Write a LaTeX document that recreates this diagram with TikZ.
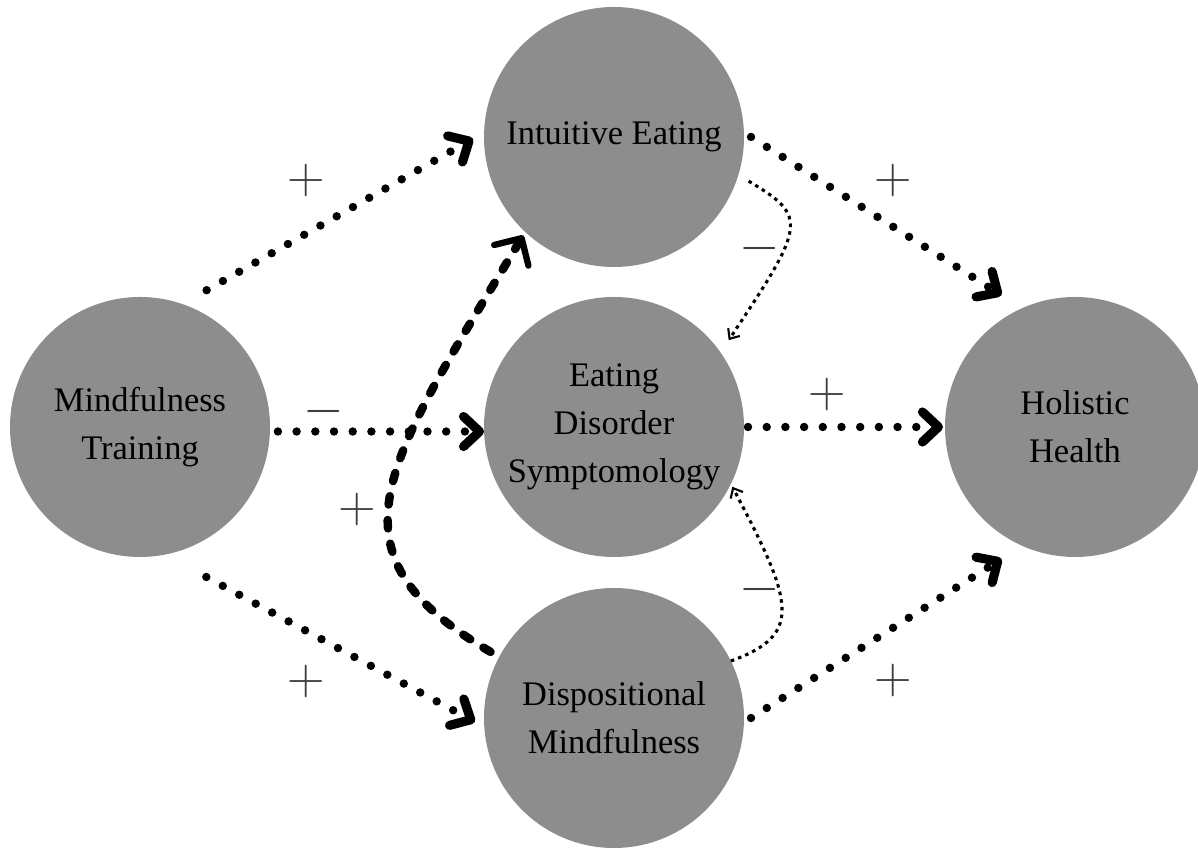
\documentclass[tikz,border=0pt]{standalone}
\usepackage{fix-cm}
\usepackage{fontspec}
\setmainfont{Liberation Serif}
\usetikzlibrary{arrows.meta}

\definecolor{factorgray}{RGB}{141,141,141}
\definecolor{signgray}{RGB}{60,60,60}

\begin{document}
\begin{tikzpicture}[
    factor/.style={circle, fill=factorgray, minimum size=6.5cm, inner sep=0pt, outer sep=0pt,
        align=center, font=\fontsize{24.5}{34}\selectfont},
    dotarrow/.style={line width=6pt, line cap=round, dash pattern=on 0pt off 13.3pt,
        -{Straight Barb[length=0.4cm, width=0.75cm, line width=6.5pt, round]}},
    dasharrow/.style={line width=6pt, line cap=round, dash pattern=on 6pt off 11pt,
        -{Straight Barb[length=0.5cm, width=1.0cm, line width=4.5pt, round]}},
    thinarrow/.style={line width=2.2pt, dash pattern=on 2.5pt off 3pt,
        -{Straight Barb[length=0.2cm, width=0.35cm, line width=1.5pt]}},
    sign/.style={inner sep=0pt, text=signgray, font=\fontsize{37}{37}\selectfont}
]
    \useasboundingbox (0,0) rectangle (29.95,21.2);

    % Circles
    \node[factor] (mt) at (3.5,10.525) {Mindfulness\\Training};
    \node[factor] (ie) at (15.35,17.775) {Intuitive Eating};
    \node[factor] (ed) at (15.35,10.525) {Eating\\Disorder\\Symptomology};
    \node[factor] (dm) at (15.35,3.25) {Dispositional\\Mindfulness};
    \node[factor] (hh) at (26.875,10.525) {Holistic\\Health};

    % Mindfulness Training outgoing paths
    \draw[dotarrow, shorten <=0.7cm, shorten >=0.32cm] (mt.71) -- (ie.178);
    \draw[dotarrow, shorten <=0.2cm] (mt.-2) -- (ed.182);
    \draw[dotarrow, shorten <=1.18cm, shorten >=0.27cm] (mt.-79) -- (dm.184.5);

    % Paths into Holistic Health
    \draw[dotarrow, shorten <=0.21cm, shorten >=0.61cm] (ie.2) -- (hh.114);
    \draw[dotarrow, shorten <=0.1cm, shorten >=0.05cm] (ed.east) -- (hh.west);
    \draw[dotarrow, shorten <=0.21cm, shorten >=0.61cm] (dm.-2) -- (hh.246);

    % Dispositional Mindfulness to Intuitive Eating
    \draw[dasharrow, shorten <=0.25cm, shorten >=0.1cm]
        (dm.152) .. controls +(-4.475,2.625) and +(-3.545,-5.87) .. (ie.227);

    % Paths into Eating Disorder Symptomology
    \draw[thinarrow, shorten <=0.3cm, shorten >=0.37cm]
        (ie.-17) .. controls +(1.745,-1.04) and +(2.14,3.21) .. (ed.35);
    \draw[thinarrow, shorten >=0.08cm]
        (dm.26) .. controls +(1.82,0.66) and +(1.57,-2.97) .. (ed.-26);

    % Signs
    \node[sign] (s1) at (7.667,16.675) {$+$};
    \node[sign] (s2) at (8.1,10.9) {$-$};
    \node[sign] (s3) at (7.667,4.158) {$+$};
    \node[sign] (s4) at (22.333,16.683) {$+$};
    \node[sign] (s5) at (20.69,11.325) {$+$};
    \node[sign] (s6) at (22.333,4.175) {$+$};
    \node[sign] (s7) at (8.942,8.467) {$+$};
    \node[sign] (s8) at (19.0,14.975) {$-$};
    \node[sign] (s9) at (19.0,6.45) {$-$};
\end{tikzpicture}
\end{document}
